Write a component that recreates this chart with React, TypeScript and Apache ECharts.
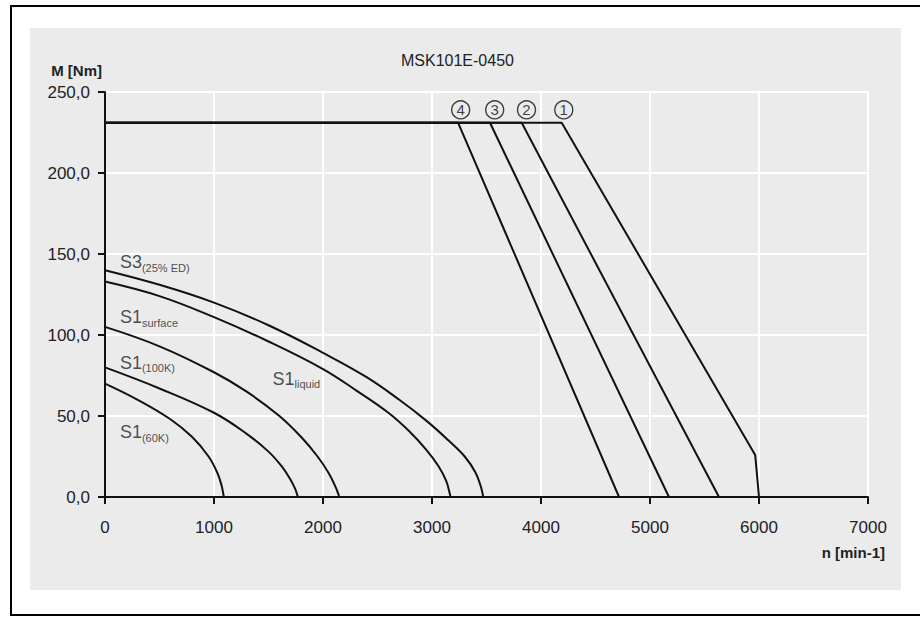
import { useEffect, useRef } from "react";
import * as echarts from "echarts";

const FONT = "'Liberation Sans', Arial, sans-serif";

const chartTitle = "MSK101E-0450";
const xAxisName = "n [min-1]";
const yAxisName = "M [Nm]";

// Speed–torque curves [n (min-1), M (Nm)]
const s1_60K = [[0, 70], [300, 60], [600, 48], [800, 37], [950, 25], [1030, 15], [1070, 7], [1085, 2], [1090, 0]];
const s1_100K = [[0, 80], [500, 67], [1000, 52], [1300, 39], [1500, 28], [1620, 19], [1700, 11], [1745, 5], [1765, 1], [1770, 0]];
const s1_surface = [[0, 105], [500, 93], [1000, 77], [1300, 65], [1600, 50], [1800, 37], [1950, 25], [2050, 15], [2110, 7], [2140, 2], [2148, 0]];
const s1_liquid = [[0, 133], [500, 124], [1000, 111], [1500, 96], [2000, 79], [2300, 66], [2600, 52], [2800, 40], [2950, 29], [3060, 19], [3130, 10], [3160, 3], [3170, 0]];
const s3_25ED = [[0, 140], [500, 131], [1000, 120], [1500, 106], [2000, 89], [2400, 74], [2700, 60], [2950, 47], [3150, 35], [3300, 25], [3400, 15], [3450, 6], [3470, 0]];

// Voltage limit lines
const limit1 = [[0, 231], [4190, 231], [5965, 26], [6000, 0]];
const limit2 = [[0, 231], [3823, 231], [5633, 0]];
const limit3 = [[0, 231], [3532, 231], [5174, 0]];
const limit4 = [[0, 231], [3240, 231], [4716, 0]];

// Circled markers for the limit lines
const markerPos = [[3263, 239], [3575, 239], [3867, 239], [4209, 239]];
const markerText = ["4", "3", "2", "1"];

// Curve labels (left edge of text)
const curveLabelPos = [[137, 145], [137, 111], [137, 83], [137, 40], [1537, 73]];
const curveLabelMain = ["S3", "S1", "S1", "S1", "S1"];
const curveLabelSub = ["(25% ED)", "surface", "(100K)", "(60K)", "liquid"];

function lineSeries(data: number[][], smooth: number) {
  return {
    type: "line",
    data,
    smooth,
    showSymbol: false,
    symbol: "none",
    lineStyle: { color: "#111", width: 2 },
    z: 3,
  };
}

export default function App() {
  const ref = useRef<HTMLDivElement>(null);
  useEffect(() => {
    if (!ref.current) return;
    const chart = echarts.init(ref.current, undefined, { renderer: "svg" });
    const option: any = {
      animation: false,
      backgroundColor: "#ffffff",
      title: {
        text: chartTitle,
        left: 396,
        top: 47,
        textStyle: { fontFamily: FONT, fontSize: 16, fontWeight: "normal", color: "#222" },
      },
      graphic: {
        elements: [
          {
            type: "rect",
            z: -10,
            shape: { x: 30, y: 28, width: 871, height: 562 },
            style: { fill: "#ebebeb" },
          },
          {
            type: "rect",
            z: -10,
            shape: { x: 11, y: 6, width: 930, height: 609 },
            style: { fill: "none", stroke: "#000", lineWidth: 2 },
          },
        ],
      },
      grid: { left: 105, right: 52, top: 92, bottom: 120, containLabel: false },
      xAxis: {
        type: "value",
        min: 0,
        max: 7000,
        interval: 1000,
        name: xAxisName,
        nameLocation: "end",
        nameGap: 17,
        nameTextStyle: {
          fontFamily: FONT,
          fontSize: 15,
          fontWeight: "bold",
          color: "#222",
          align: "right",
          verticalAlign: "top",
          padding: [48, 0, 0, 0],
        },
        axisLine: { show: true, lineStyle: { color: "#111", width: 2 } },
        axisTick: { show: true, inside: false, length: 7, lineStyle: { color: "#111", width: 2 } },
        axisLabel: {
          fontFamily: FONT,
          fontSize: 17,
          color: "#222",
          margin: 22,
          formatter: (v: number) => String(v),
        },
        splitLine: { show: true, lineStyle: { color: "#ffffff", width: 2 } },
      },
      yAxis: {
        type: "value",
        min: 0,
        max: 250,
        interval: 50,
        name: yAxisName,
        nameLocation: "end",
        nameGap: 14,
        nameTextStyle: {
          fontFamily: FONT,
          fontSize: 15,
          fontWeight: "bold",
          color: "#222",
          align: "right",
          verticalAlign: "bottom",
          padding: [0, 3, 0, 0],
        },
        axisLine: { show: true, lineStyle: { color: "#111", width: 2 } },
        axisTick: { show: true, inside: false, length: 7, lineStyle: { color: "#111", width: 2 } },
        axisLabel: {
          fontFamily: FONT,
          fontSize: 17,
          color: "#222",
          margin: 15,
          formatter: (v: number) => v.toFixed(1).replace(".", ","),
        },
        splitLine: { show: true, lineStyle: { color: "#ffffff", width: 2 } },
      },
      series: [
        lineSeries(s1_60K, 0.4),
        lineSeries(s1_100K, 0.4),
        lineSeries(s1_surface, 0.4),
        lineSeries(s1_liquid, 0.4),
        lineSeries(s3_25ED, 0.4),
        lineSeries(limit1, 0),
        lineSeries(limit2, 0),
        lineSeries(limit3, 0),
        lineSeries(limit4, 0),
        {
          type: "scatter",
          symbol: "circle",
          symbolSize: 18,
          itemStyle: { color: "rgba(0,0,0,0)", borderColor: "#111", borderWidth: 1.4 },
          data: markerPos.map((p, i) => ({ value: p, name: markerText[i] })),
          label: {
            show: true,
            position: "inside",
            formatter: (p: any) => p.name,
            fontFamily: FONT,
            fontSize: 15,
            color: "#111",
          },
          z: 4,
        },
        {
          type: "scatter",
          symbolSize: 0,
          itemStyle: { color: "rgba(0,0,0,0)" },
          data: curveLabelPos.map((p, i) => ({
            value: p,
            label: { formatter: `{a|${curveLabelMain[i]}}{b|${curveLabelSub[i]}}` },
          })),
          label: {
            show: true,
            position: [0, 0],
            align: "left",
            verticalAlign: "middle",
            rich: {
              a: { fontFamily: FONT, fontSize: 18, color: "#222", lineHeight: 22 },
              b: { fontFamily: FONT, fontSize: 11, color: "#222", lineHeight: 12, verticalAlign: "bottom" },
            },
          },
          z: 4,
        },
      ],
    };
    chart.setOption(option);
    return () => chart.dispose();
  }, []);
  return (
    <div
      ref={ref}
      style={{ position: "fixed", left: 0, top: 0, width: 920, height: 617 }}
    />
  );
}
